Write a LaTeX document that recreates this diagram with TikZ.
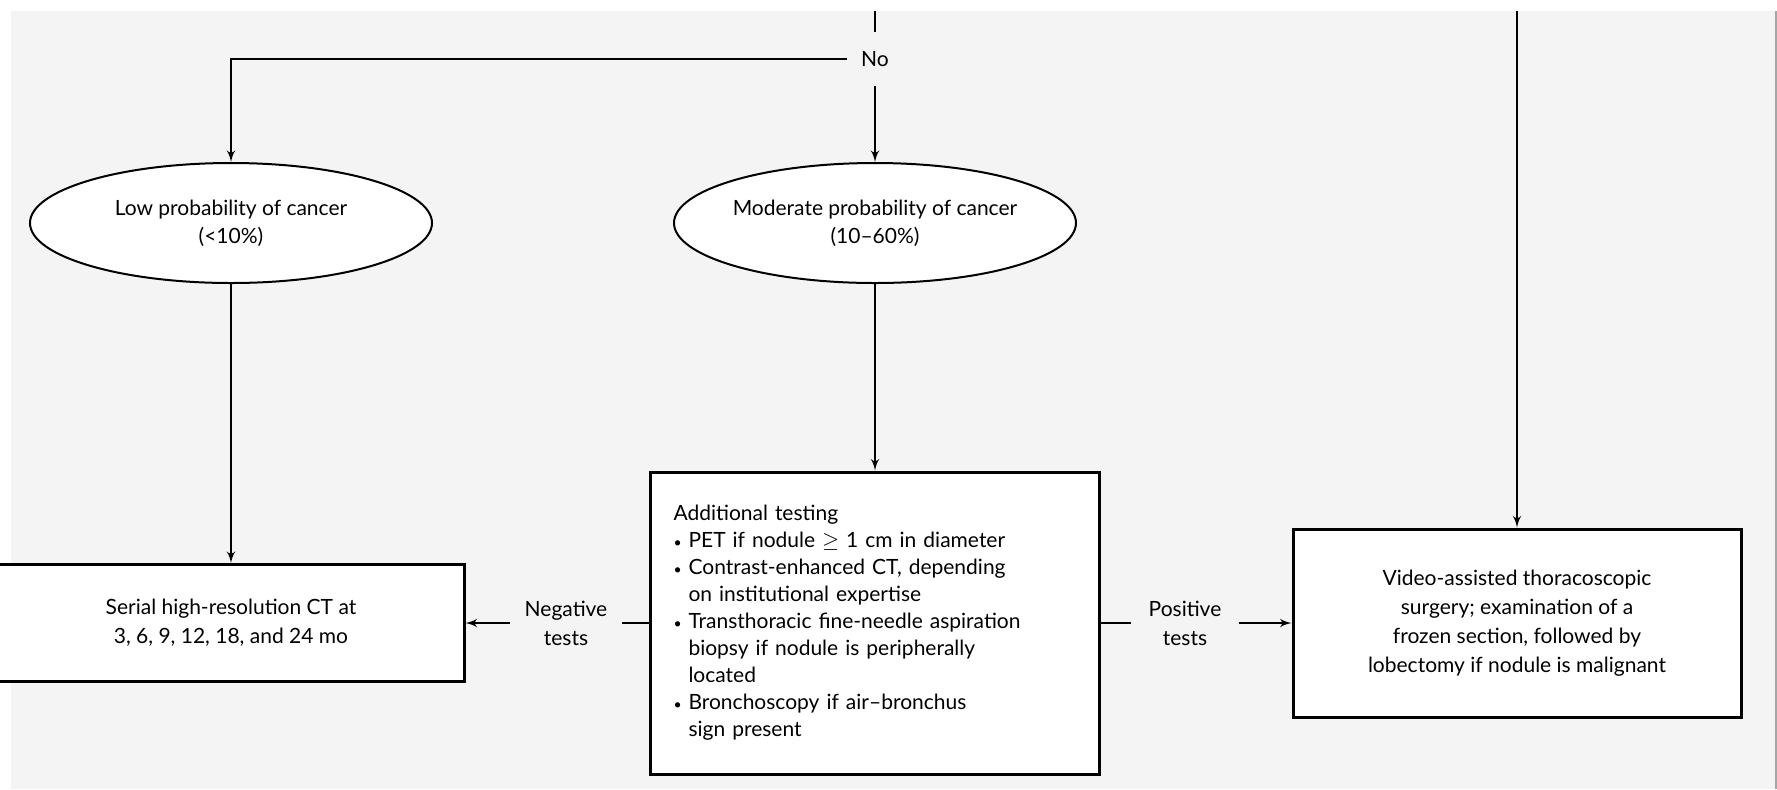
\documentclass[tikz,border=0pt]{standalone}
\usepackage{fontspec}
\setmainfont{Lato}
\usetikzlibrary{arrows}
\usetikzlibrary{shapes.geometric}
\definecolor{bggray}{HTML}{F4F4F4}
\newcommand{\itm}{\par\hangindent=7.5pt\hangafter=1\noindent\makebox[7.5pt][l]{\scriptsize\textbullet}}

\begin{document}
\begin{tikzpicture}[x=0.5pt, y=-0.5pt, auto, node distance=200pt, >=latex', line width=1pt]
    \tikzstyle{block} = [draw, rectangle, line width=1.5pt, fill=white, align=center, inner sep=0pt, font=\fontsize{10.5}{14.5}\selectfont];
    \tikzstyle{oval} = [draw, ellipse, fill=white, align=center, minimum width=201pt, minimum height=60pt, inner xsep=-15pt, font=\fontsize{10.5}{14}\selectfont];
    \tikzstyle{lbl} = [align=center, inner sep=0pt, font=\fontsize{10.5}{14.5}\selectfont];
    \useasboundingbox (0,0) rectangle (1777,789);
    \fill [bggray] (11,11) rectangle (1777,789);
    \draw [gray!70] (1776,11) -- (1776,789);
    \node [oval] (low) at (231,223) {Low probability of cancer\\(<10\%)};
    \node [oval, right of=low, node distance=322pt] (mod) {Moderate probability of cancer\\(10--60\%)};
    \node [block, below of=low, minimum width=233pt, minimum height=58.5pt] (ct) {Serial high-resolution CT at\\3, 6, 9, 12, 18, and 24 mo};
    \node [block, below of=mod, minimum height=151pt, text width=201.5pt, align=left, inner xsep=11.5pt, font=\fontsize{10.5}{13.5}\selectfont] (test) {Additional testing
      \itm PET if nodule $\geq$ 1 cm in diameter
      \itm Contrast-enhanced CT, depending\newline on institutional expertise
      \itm Transthoracic fine-needle aspiration\newline biopsy if nodule is peripherally\newline located
      \itm Bronchoscopy if air--bronchus\newline sign present\par};
    \node [block, right of=test, node distance=321pt, minimum width=224pt, minimum height=94pt] (vats) {Video-assisted thoracoscopic\\surgery; examination of a\\frozen section, followed by\\lobectomy if nodule is malignant};
    \node [lbl, minimum width=27pt, minimum height=26pt] (no) at (875,59) {No};
    \node [lbl, minimum width=55pt] (neg) at (566,623) {Negative\\tests};
    \node [lbl, minimum width=53pt] (pos) at (1185,623) {Positive\\tests};
    \coordinate (c) at (875,11);
    \coordinate (d) at (vats.north |- c);
    \draw (c) -- (no);
    \draw [->] (no) -| (low);
    \draw [->] (no) -- (mod);
    \draw [->] (d) -- (vats);
    \draw [->] (low) -- (ct);
    \draw [->] (mod) -- (test);
    \draw (test) -- (neg);
    \draw [->] (neg) -- (ct);
    \draw (test) -- (pos);
    \draw [->] (pos) -- (vats);
\end{tikzpicture}
\end{document}
